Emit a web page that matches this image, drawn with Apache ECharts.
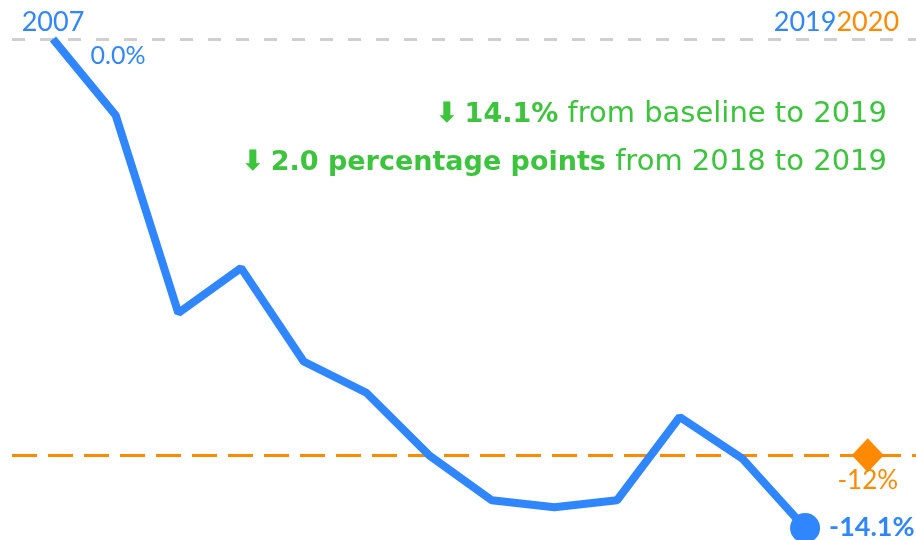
<!DOCTYPE html>
<html>
<head>
<meta charset="utf-8">
<script src="https://cdn.jsdelivr.net/npm/echarts@6/dist/echarts.min.js"></script>
<style>
  html, body { margin: 0; padding: 0; background: #fff; }
  #chart { width: 916px; height: 540px; }
</style>
</head>
<body>
<div id="chart"></div>
<script>
// values (% change from 2007 baseline)
const years = [2007, 2008, 2009, 2010, 2011, 2012, 2013, 2014, 2015, 2016, 2017, 2018, 2019];
const changes = [0.0, -2.2, -7.9, -6.6, -9.3, -10.2, -12.0, -13.3, -13.5, -13.3, -10.9, -12.1, -14.1];
const targetYear = 2020;
const targetValue = -12;

const BLUE = '#2f86ff';
const ORANGE = '#ff8a00';
const GREEN = '#3cc43c';
const FONT = 'Lato';
const NOTE_FONT = 'DejaVu Sans';

const chart = echarts.init(document.getElementById('chart'));

const last = changes.length - 1;
const fromBase = Math.abs(changes[last] - changes[0]).toFixed(1);
const fromPrev = Math.abs(changes[last] - changes[last - 1]).toFixed(1);

const lineData = years.map((y, i) => {
    const item = { value: [y, changes[i]] };
    if (i === 0) {
        item.symbol = 'circle';
        item.symbolSize = 1;
        item.label = {
            show: true, position: 'right', offset: [32, 17],
            formatter: changes[0].toFixed(1) + '%',
            color: BLUE, fontSize: 25, fontFamily: FONT
        };
    }
    if (i === last) {
        item.symbol = 'circle';
        item.symbolSize = 30;
        item.label = {
            show: true, position: 'right', offset: [4, -1],
            formatter: changes[last].toFixed(1) + '%',
            color: BLUE, fontSize: 27, fontWeight: 'bold', fontFamily: FONT
        };
    }
    return item;
});

const yearMarks = [
    { value: [years[0], 0], label: { color: BLUE } },
    { value: [years[last], 0], label: { color: BLUE } },
    { value: [targetYear, 0], label: { color: ORANGE } }
];

const noteRich = {
    a: { fontSize: 28, fontFamily: NOTE_FONT, fill: GREEN, fontWeight: 'bold', padding: [0, 6, 0, 0] },
    b: { fontSize: 27, fontFamily: NOTE_FONT, fontWeight: 'bold', fill: GREEN },
    c: { fontSize: 29, fontFamily: NOTE_FONT, fill: GREEN }
};

const option = {
    animation: false,
    grid: { left: 12, right: 0, top: 39, bottom: 12 },
    xAxis: {
        type: 'value', min: 2006.346, max: 2020.77, show: false
    },
    yAxis: {
        type: 'value', min: -14.1, max: 0, show: false
    },
    series: [
        {
            type: 'line',
            data: lineData,
            symbol: 'none',
            lineStyle: { color: BLUE, width: 8 },
            itemStyle: { color: BLUE },
            z: 5,
            markLine: {
                silent: true,
                symbol: 'none',
                label: { show: false },
                data: [
                    { yAxis: 0, lineStyle: { color: '#d0d0d0', type: [13, 15], width: 3 } },
                    { yAxis: targetValue, lineStyle: { color: ORANGE, type: [25, 11], width: 3 } }
                ]
            }
        },
        {
            type: 'scatter',
            data: [{ value: [targetYear, targetValue] }],
            symbol: 'diamond',
            symbolSize: [32, 34],
            itemStyle: { color: ORANGE, opacity: 1 },
            label: {
                show: true, position: 'bottom', distance: -5,
                formatter: targetValue + '%',
                color: ORANGE, fontSize: 26, fontFamily: FONT
            },
            z: 6
        },
        {
            type: 'scatter',
            data: yearMarks,
            symbolSize: 0,
            itemStyle: { opacity: 1 },
            label: {
                show: true, position: 'top', distance: 3,
                formatter: p => String(p.value[0]),
                fontSize: 27, fontFamily: FONT
            },
            z: 7
        }
    ],
    graphic: [
        {
            type: 'text', right: 29, top: 100,
            style: {
                text: '{a|\u2B07}{b|' + fromBase + '%}{c| from baseline to 2019}',
                rich: noteRich
            }
        },
        {
            type: 'text', right: 29, top: 148,
            style: {
                text: '{a|\u2B07}{b|' + fromPrev + ' percentage points}{c| from 2018 to 2019}',
                rich: noteRich
            }
        }
    ]
};

chart.setOption(option);
</script>
</body>
</html>
